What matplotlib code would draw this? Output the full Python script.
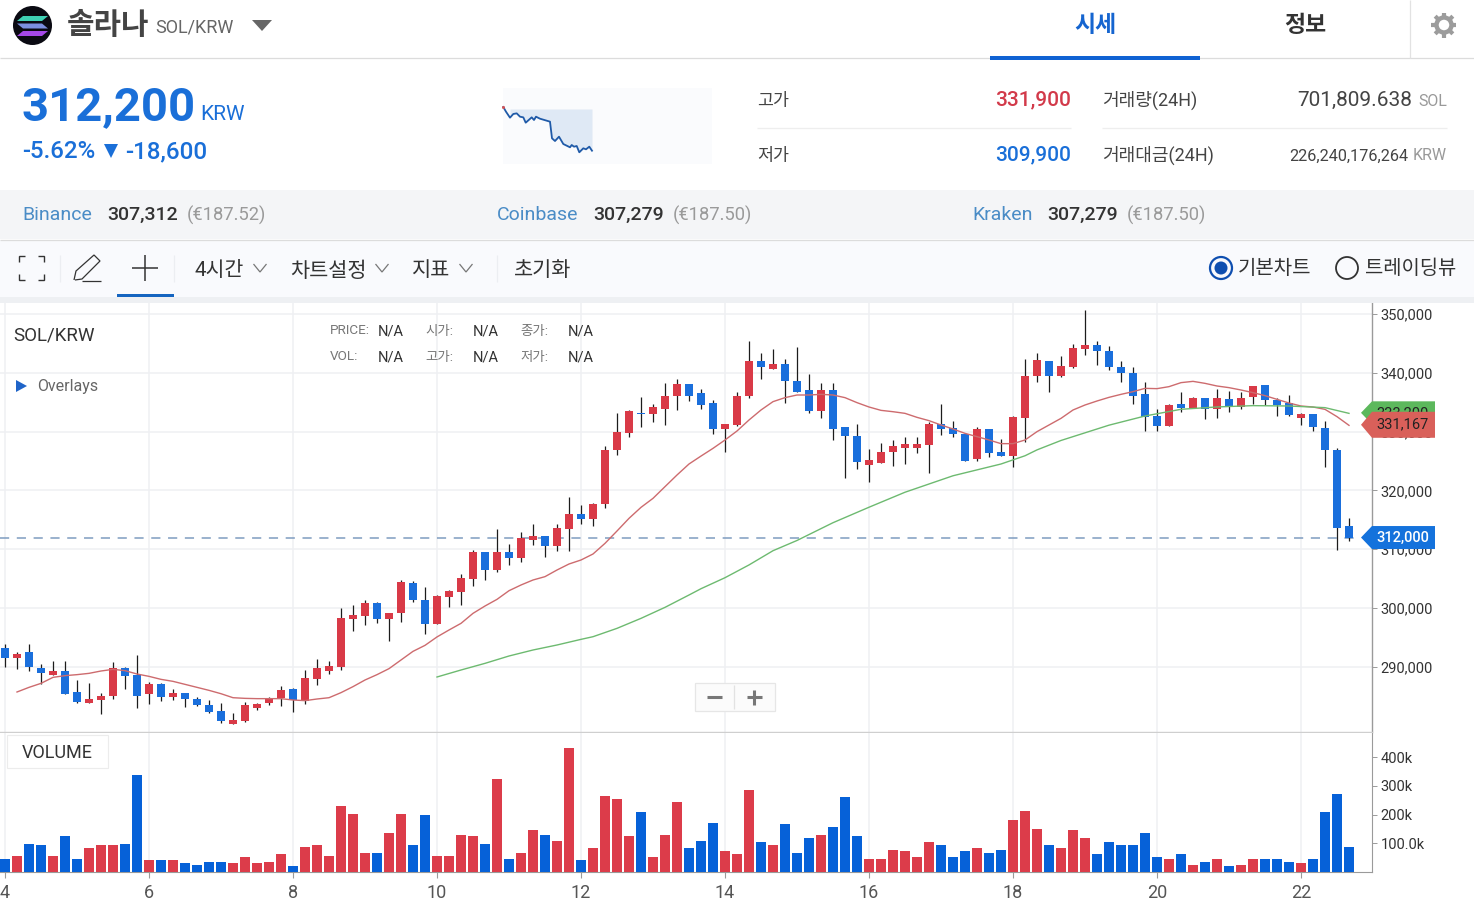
import matplotlib
matplotlib.use("Agg")
import matplotlib.pyplot as plt
from matplotlib.patches import Polygon, Rectangle, Circle
import math

plt.rcParams['font.family'] = ['Roboto', 'Noto Sans CJK KR', 'DejaVu Sans']

# ---------- data ----------
opens = [293160,291460,292480,289880,288630,289370,285800,283810,284380,285120,289880,288630,285340,287100,284830,285510,284550,283470,282450,280300,
         280750,282960,283810,284660,286310,284270,287890,289370,289930,298090,298600,300870,298090,299170,304210,301380,297300,301890,302680,304950,
         309540,306480,309540,308520,311580,312320,310560,313390,315940,315150,317700,326880,329710,333230,333000,333790,336060,338100,336570,334790,
         330450,331190,336000,341950,340650,341440,338610,337080,333510,337080,330730,329200,324330,324610,326600,327160,327160,327670,331240,330680,
         329660,325350,330450,326600,325860,332260,339400,341950,339400,340930,343990,344730,343710,340930,339910,336340,332720,331010,334760,334020,
         335780,333790,335490,334130,335830,337870,335320,334810,332260,332990,330680,326880,313900]
closes = [291460,292140,289930,288910,289370,285340,284100,284550,285060,289820,288400,285120,287100,284890,285570,284610,283590,282340,280750,280920,
          283470,283760,284550,286080,284320,288060,289820,290160,298260,298830,300870,298090,299110,304440,301380,297300,302120,302910,305170,309540,
          306480,309540,308520,311980,312320,310560,313620,315940,315150,317700,326880,329940,333510,333060,334250,336060,338100,336060,334530,330450,
          331240,336060,341950,340930,341440,338670,336800,333510,337080,330450,329200,324840,325120,326600,327620,327900,327900,331240,330450,329660,
          325070,330450,326370,325860,332490,339400,342180,339400,341160,344220,344730,343710,340930,339910,336120,332550,331010,334530,334020,335780,
          333790,335780,334300,335780,337820,335320,334530,332770,332990,330730,326940,313680,311860]
highs = [293840,292600,293840,290500,291070,291070,287780,287210,285630,290780,290050,292090,287500,287210,286190,285510,284830,284380,283930,282110,
         284100,283930,284890,286760,286420,289480,291290,291010,299960,300470,301320,300980,299230,304780,304550,303530,302230,303080,305800,309880,
         309540,313510,310900,312940,314300,312320,314300,318890,317590,317810,327500,333170,333620,335950,334700,338210,339010,338100,337250,335380,
         331240,336680,345350,343310,344110,342290,344330,339740,338210,338210,330730,331300,326990,328010,328520,329030,329030,331580,334640,331870,
         329660,330730,330450,328810,332600,342290,343310,342070,342800,344840,350740,345350,344560,342070,341050,338380,333850,334640,336680,335890,
         335780,337190,336910,336680,337820,337930,335660,336170,333110,332990,331810,327160,315260]
lows = [290050,289590,289370,287040,288630,285340,283930,283810,281940,284490,286250,282960,283700,284210,284380,283190,283420,282230,280410,280300,
        280640,282680,283470,283420,282400,283760,286990,288800,289480,296170,297130,297470,294350,297700,301040,295600,297300,300190,300530,303820,
        304840,306140,307330,307840,310730,308690,309650,309710,314240,313960,317070,325970,329090,330790,331580,331130,333620,335210,333850,329600,
        326540,331020,335720,339010,340650,334930,336680,333230,332380,328580,322180,323700,321380,324610,324220,324440,326310,322970,329370,329090,
        325070,325010,325690,325860,323930,328300,338500,336740,339290,340820,343030,341270,340540,338500,334700,330050,330050,331010,333400,333960,
        332090,332380,333400,333910,334640,334530,332660,332660,331070,330050,323990,309940,311410]
volumes = [46300,56700,98300,93700,56700,125000,46300,83300,93700,93700,98300,337800,41700,41700,41700,31200,25500,35900,35900,31200,
           52100,31200,35900,62500,20800,87900,93700,56700,229100,202500,67100,67100,135400,202500,93700,197800,56700,56700,129600,125000,
           98300,322800,46300,67100,145800,129600,108800,431600,41700,83300,265000,254500,125000,208300,52100,129600,244100,83300,108800,171200,
           72900,62500,285800,104100,93700,166600,67100,119200,129600,156200,260300,125000,46300,46300,77500,72900,52100,104100,93700,52100,
           72900,83300,67100,77500,181600,212900,150400,93700,83300,145800,119200,62500,104100,93700,93700,135400,52100,46300,62500,25500,
           35900,46300,20800,25500,46300,46300,46300,35900,31200,46300,208300,270700,87900]
red_ma = [285740,286530,287210,288230,288520,288690,288910,289310,289590,289370,288800,288400,287890,287550,287040,286530,286020,285450,284770,284660,
          284610,284610,284610,284380,284270,284550,284770,285630,286650,287780,288690,289710,291180,292650,293670,295100,296280,297410,299110,300360,
          301490,302960,303930,304780,305350,306480,307500,308180,309200,311010,313110,315260,317130,318660,320650,322630,324500,325850,327160,328580,
          330110,331980,333680,335100,335780,336230,336230,336340,336230,335780,334930,334190,333620,333390,333110,332430,331870,331130,330450,329710,
          329150,328580,327960,327960,328580,330000,331130,332260,333680,334530,335210,335830,336340,336800,337360,337310,337650,338330,338550,338210,
          337760,337480,337080,336630,336120,335490,334870,334360,334190,333790,332550,331070]
green_idx = [36,38,40,42,44,46,48,49,51,53,55,57,58,60,62,64,66,69,72,75,79,83,85,86,88,92,95,98,101,104,107,110,112]
green_ma = [288290,289480,290610,291860,292880,293730,294690,295140,296560,298260,300130,302230,303300,305170,307340,309760,311500,314520,317150,319700,
            322500,324500,325900,326900,328500,331100,332660,333800,334200,334420,334360,334080,333110]
day_labels = ['4','6','8','10','12','14','16','18','20','22']
price_ticks = [290000,300000,310000,320000,330000,340000,350000]
volume_ticks = [100000,200000,300000,400000]
volume_labels = ['100.0k','200k','300k','400k']
last_price = 312000
spark_x = [503.3,506,510,513.3,516.7,520,523.3,525.7,531.7,534,536,540,550,552,555,559,563.3,570,571.7,574,576.7,579.3,583.3,586,589.3,592]
spark_v = [331900,329600,326680,328480,328800,327160,326840,324230,326840,325540,327160,326180,324730,316590,315270,317380,313800,312190,313320,312490,312830,309750,311700,311210,312490,310530]

# ---------- colours ----------
RED = '#d93a47'; BLUE = '#1a6fdc'; VBLUE = '#0661d8'; VRED = '#dc3c4a'
GRID = '#eff0f3'; AX = '#9a9a9a'; DARK = '#333333'; GRAY = '#666666'

W, H = 1474, 906
fig = plt.figure(figsize=(W/100, H/100), dpi=100, facecolor='white')
def axpx(l, t, r, b, **k):
    return fig.add_axes([l/W, 1-b/H, (r-l)/W, (b-t)/H], **k)

PX_PER_IDX = 12.0
XMIN = -5/PX_PER_IDX; XMAX = (1372-5)/PX_PER_IDX
YTOP = 351870; YBOT = 278940
n = len(opens)
xs = list(range(n))
cols = [RED if c >= o else BLUE for o, c in zip(opens, closes)]
vcols = [VRED if c >= o else VBLUE for o, c in zip(opens, closes)]

# ---------- price panel ----------
ax = axpx(0, 303, 1372, 732)
ax.set_xlim(XMIN, XMAX); ax.set_ylim(YBOT, YTOP)
ax.vlines(xs, lows, highs, color='#1c1c1c', lw=0.9, zorder=3)
ax.bar(xs, [abs(c-o) for o, c in zip(opens, closes)], bottom=[min(o, c) for o, c in zip(opens, closes)],
       width=0.62, color=cols, lw=0, zorder=4)
ax.plot(xs[1:], red_ma, color='#cd6b6e', lw=1.0, zorder=5)
ax.plot(green_idx, green_ma, color='#6dba70', lw=1.0, zorder=5)
ax.plot([XMIN, 112.9], [last_price, last_price], color='#7f9cc0', lw=1.1, dashes=(6, 5), zorder=2)
ax.set_xticks(xs[::12]); ax.set_xticklabels([])
ax.set_yticks(price_ticks); ax.set_yticklabels([f'{v:,}' for v in price_ticks], fontsize=10.5, color=DARK, ha='left')
ax.yaxis.tick_right()
ax.tick_params(axis='y', length=3.6, width=0.7, color=AX, pad=2.5)
ax.tick_params(axis='x', length=0)
ax.grid(True, color=GRID, lw=1.1, zorder=0); ax.set_axisbelow(True)
for s in ('top', 'left'): ax.spines[s].set_visible(False)
ax.spines['right'].set_color(AX); ax.spines['right'].set_linewidth(1.0)
ax.spines['bottom'].set_color('#cfcfcf'); ax.spines['bottom'].set_linewidth(1.0)

# ---------- volume panel ----------
av = axpx(0, 733, 1372, 872)
av.set_xlim(XMIN, XMAX); av.set_ylim(0, 484300)
av.bar(xs, volumes, width=0.85, color=vcols, lw=0, zorder=3)
av.set_xticks(xs[::12]); av.set_xticklabels(day_labels, fontsize=13, color='#555555')
av.set_yticks(volume_ticks); av.set_yticklabels(volume_labels, fontsize=10.5, color=DARK, ha='left')
av.yaxis.tick_right()
av.tick_params(axis='y', length=3.6, width=0.7, color=AX, pad=2.5)
av.tick_params(axis='x', length=4, width=0.8, color=AX, pad=5)
av.grid(True, axis='x', color=GRID, lw=1.1); av.set_axisbelow(True)
for s in ('top', 'left'): av.spines[s].set_visible(False)
av.spines['right'].set_color(AX); av.spines['bottom'].set_color(AX)

# ---------- UI layer (pixel coordinates) ----------
ui = fig.add_axes([0, 0, 1, 1], zorder=10)
ui.set_xlim(0, W); ui.set_ylim(H, 0); ui.axis('off'); ui.patch.set_alpha(0)

def T(x, y, s, size, color=DARK, ha='left', weight='normal', z=6):
    return ui.text(x, y, s, fontsize=size, color=color, ha=ha, va='center', fontweight=weight, zorder=z)
def R(x0, y0, x1, y1, color, z=1, **k):
    ui.add_patch(Rectangle((x0, y0), x1-x0, y1-y0, fc=color, ec='none', zorder=z, **k))
def L(xx, yy, color='#333333', lw=1.0, z=6):
    ui.plot(xx, yy, color=color, lw=lw, zorder=z, solid_capstyle='butt', solid_joinstyle='miter')

# header
L([0, W], [58, 58], '#dcdcdc', 0.9)
R(990, 55.5, 1200, 60, '#0f62d3', z=7)
L([1410, 1410], [0, 58], '#e2e2e2', 0.9)
ui.add_patch(Circle((32.5, 25.5), 19.5, fc='#0a0a12', ec='none', zorder=3))
for y0, col, flip in ((16, '#3fd0b4', 0), (23.5, '#7b8fe0', 1), (31, '#a548e8', 0)):
    d = 3 if not flip else -3
    ui.add_patch(Polygon([(20+d, y0), (45+d, y0), (45-d, y0+5), (20-d, y0+5)], fc=col, ec='none', zorder=4))
T(67, 26, '솔라나', 21.5, '#444444', weight='bold')
T(155, 27, 'SOL/KRW', 13, GRAY)
ui.add_patch(Polygon([(252, 20), (272, 20), (262, 31)], fc='#666666', ec='none', zorder=4))
T(1095, 26, '시세', 16.5, '#1565d0', ha='center', weight='bold')
T(1305, 26, '정보', 16.5, '#333333', ha='center', weight='bold')
# gear icon
gx, gy = 1444, 25
ui.add_patch(Circle((gx, gy), 7.5, fc='none', ec='#9c9c9c', lw=3.2, zorder=6))
for k in range(8):
    a = k * math.pi / 4
    L([gx + 8*math.cos(a), gx + 12.5*math.cos(a)], [gy + 8*math.sin(a), gy + 12.5*math.sin(a)], '#9c9c9c', 3.0)

# price block
PB = '#1a6fd8'
T(22, 107, '312,200', 34, PB, weight='bold')
T(200, 115, 'KRW', 15, PB)
T(22, 152, '-5.62%', 17.3, PB, weight='medium')
ui.add_patch(Polygon([(104, 144), (118, 144), (111, 158)], fc=PB, ec='none', zorder=4))
T(125, 152, '-18,600', 17.5, PB, weight='medium')

# sparkline
R(503, 88, 712, 164, '#fafbfd', z=1)
ymap = lambda v: 107 + (331900 - v) / 489.0
ui.fill_between(spark_x, [ymap(v) for v in spark_v], 109, where=[x > 507 for x in spark_x],
                color='#dfe9f5', lw=0, zorder=2)
ui.plot(spark_x, [ymap(v) for v in spark_v], color='#1f5aa8', lw=1.3, zorder=3)
ui.plot(spark_x[:1], [ymap(spark_v[0])], 'o', ms=2.2, color='#d0555a', mew=0, zorder=4)

# stats
T(757, 101, '고가', 12.5, '#444444')
T(757, 156, '저가', 12.5, '#444444')
T(1071, 100, '331,900', 15, '#d23a4a', ha='right', weight='medium')
T(1071, 155, '309,900', 15, PB, ha='right', weight='medium')
L([757, 1071], [127.5, 127.5], '#eeeeee', 0.9)
L([1102, 1447], [127.5, 127.5], '#eeeeee', 0.9)
T(1102, 100, '거래량(24H)', 13, '#444444')
T(1102, 155, '거래대금(24H)', 13, '#444444')
T(1412, 100, '701,809.638', 15, '#444444', ha='right')
T(1447, 101, 'SOL', 11.5, '#999999', ha='right')
T(1408, 156, '226,240,176,264', 11.7, '#444444', ha='right')
T(1447, 156, 'KRW', 11.5, '#999999', ha='right')

# exchange band
R(0, 190, W, 239, '#f4f5f7')
L([0, W], [239.5, 239.5], '#dcdcdc', 0.9)
for xn, name, xv, val, xe, eur in ((22, 'Binance', 107, '307,312', 187, '(€187.52)'),
                                  (497, 'Coinbase', 593, '307,279', 673, '(€187.50)'),
                                  (972, 'Kraken', 1047, '307,279', 1127, '(€187.50)')):
    T(xn, 215, name, 14, '#4a8cc6')
    T(xv, 215, val, 14, '#333333', weight='medium')
    T(xe, 215, eur, 13.2, '#9a9a9a')

# toolbar
R(0, 240, W, 297, '#f9fafd')
R(0, 297, W, 303, '#eef0f3')
for cx, cy, dx, dy in ((19, 256, 1, 1), (44, 256, -1, 1), (19, 280, 1, -1), (44, 280, -1, -1)):
    L([cx+dx*6, cx, cx], [cy, cy, cy+dy*6], '#333333', 1.0)
L([60, 60], [255, 282], '#eceef2', 0.9)
L([74, 76, 94, 100, 82, 75], [280, 271, 255, 261, 279, 280], '#333333', 0.9)
L([82, 101], [281, 281], '#333333', 0.9)
L([132, 158], [268, 268], '#333333', 1.1)
L([145, 145], [255, 281], '#333333', 1.1)
R(117, 294, 174, 297, '#1565c0', z=3)
L([174, 174], [255, 282], '#eceef2', 0.9)
L([497, 497], [255, 282], '#eceef2', 0.9)
T(195, 271, '4시간', 14.8)
T(290, 271, '차트설정', 15)
T(412, 271, '지표', 15)
T(514, 271, '초기화', 15)
for xc in (260, 382, 466):
    L([xc-6.5, xc, xc+6.5], [264, 272, 264], '#777777', 0.9)
ui.add_patch(Circle((1221, 268), 11, fc='none', ec='#0f4fb0', lw=1.6, zorder=5))
ui.add_patch(Circle((1221, 268), 6.5, fc='#0f4fb0', ec='none', zorder=5))
T(1238, 269, '기본차트', 14.4)
ui.add_patch(Circle((1347, 268), 11, fc='none', ec='#333333', lw=1.3, zorder=5))
T(1365, 269, '트레이딩뷰', 14.3)

# chart captions
T(13, 335, 'SOL/KRW', 13.5, '#333333')
ui.add_patch(Polygon([(16, 380), (27, 386), (16, 392)], fc='#1f64c8', ec='none', zorder=6))
T(37, 387, 'Overlays', 11.5, '#666666')
for x0, lab, x1, yy in ((330, 'PRICE:', 378, 331), (425, '시가:', 473, 332), (520, '종가:', 568, 332),
                        (330, 'VOL:', 378, 357), (425, '고가:', 473, 358), (520, '저가:', 568, 358)):
    T(x0, yy, lab, 9.7, '#777777')
    T(x1, 331 if yy < 340 else 357, 'N/A', 10.5, '#333333')

# VOLUME box
ui.add_patch(Rectangle((7, 735), 101, 33, fc='white', ec='#ececec', lw=0.8, zorder=5))
T(57, 753, 'VOLUME', 13, '#333333', ha='center')

# zoom buttons
ui.add_patch(Rectangle((695, 683), 80, 28, fc='#fbfbfb', ec='#e6e6e6', lw=0.9, zorder=5))
L([734.5, 734.5], [685, 709], '#e2e2e2', 0.9)
L([707, 722], [697, 697], '#777777', 2.2)
L([747, 762], [697, 697], '#777777', 2.2)
L([754.5, 754.5], [690, 705], '#777777', 2.2)

# price tags, positioned from the price scale
def y_px(v):
    return 303 + (YTOP - v) / (YTOP - YBOT) * (732 - 303)
def tag(v, col, txtcol, weight='normal', h=11.5):
    y = y_px(v)
    ui.add_patch(Polygon([(1361, y), (1372, y-h), (1435, y-h), (1435, y+h), (1372, y+h)],
                         fc=col, ec='none', zorder=7))
    return ui.text(1376, y, f'{v:,}', fontsize=10.5, color=txtcol, ha='left', va='center',
                   fontweight=weight, zorder=7)
tag(green_ma[-1] + 90, '#5cb85c', '#222222')
tag(331167, '#d9605a', '#222222', h=13)
tag(last_price, '#1472dc', 'white', weight='medium')

fig.savefig('out.png', dpi=100)
